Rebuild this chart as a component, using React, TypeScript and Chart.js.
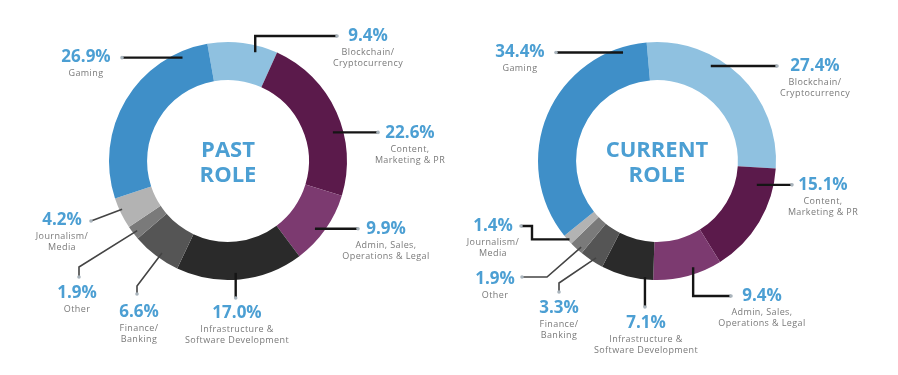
import React, { useEffect, useRef } from "react";
import { Chart, registerables } from "chart.js";

Chart.register(...registerables);

// ---------- DATA ----------
const categories = [
  "Blockchain/Cryptocurrency",
  "Content, Marketing & PR",
  "Admin, Sales, Operations & Legal",
  "Infrastructure & Software Development",
  "Finance/Banking",
  "Other",
  "Journalism/Media",
  "Gaming",
];
const categoryLines = [
  ["Blockchain/", "Cryptocurrency"],
  ["Content,", "Marketing & PR"],
  ["Admin, Sales,", "Operations & Legal"],
  ["Infrastructure &", "Software Development"],
  ["Finance/", "Banking"],
  ["Other"],
  ["Journalism/", "Media"],
  ["Gaming"],
];
const pastValues = [9.4, 22.6, 9.9, 17.0, 6.6, 1.9, 4.2, 26.9];
const currentValues = [27.4, 15.1, 9.4, 7.1, 3.3, 1.9, 1.4, 34.4];
const pastTitle = ["PAST", "ROLE"];
const currentTitle = ["CURRENT", "ROLE"];

// ---------- STYLE / LAYOUT ----------
const sliceColors = [
  "#8fc1e0",
  "#5b1a4b",
  "#7c3a70",
  "#2a2a2a",
  "#555555",
  "#7a7a7a",
  "#b3b3b3",
  "#3f8fc8",
];
const BLUE = "#4c9fd3";
const GREY_TEXT = "#7a7a7a";
const FONT = "'Open Sans', 'DejaVu Sans', sans-serif";

type Seg = ["v", number] | ["h", number] | ["p", number, number];
type Leader = {
  t: number;
  rf: number;
  path: Seg[];
  lx: number;
  ly: number;
  thin?: boolean;
};

const pastLeaders: Leader[] = [
  { t: 0.7, rf: 0.82, path: [["v", -125], ["h", 109]], lx: 140, ly: -125 },
  { t: 0.61, rf: 0.73, path: [["h", 150]], lx: 182, ly: -28 },
  { t: 0.58, rf: 0.77, path: [["h", 130]], lx: 158, ly: 68 },
  { t: 0.53, rf: 0.82, path: [["v", 137]], lx: 9, ly: 152 },
  { t: 0.43, rf: 0.85, path: [["p", -91, 125], ["v", 133]], lx: -89, ly: 151, thin: true },
  { t: 0.45, rf: 0.88, path: [["p", -149, 106], ["v", 116]], lx: -151, ly: 132, thin: true },
  { t: 0.6, rf: 0.93, path: [["p", -137, 60]], lx: -166, ly: 59, thin: true },
  { t: 0.86, rf: 0.84, path: [["h", -106]], lx: -142, ly: -104 },
];
const currentLeaders: Leader[] = [
  { t: 0.35, rf: 0.74, path: [["h", 120]], lx: 158, ly: -95 },
  { t: 0.18, rf: 0.57, path: [["h", 135]], lx: 166, ly: 24 },
  { t: 0.39, rf: 0.82, path: [["v", 135], ["h", 74]], lx: 105, ly: 135 },
  { t: 0.16, rf: 0.94, path: [["v", 146]], lx: -11, ly: 162 },
  { t: 0.4, rf: 0.88, path: [["p", -98, 122], ["v", 131]], lx: -98, ly: 147, thin: true },
  { t: 0.3, rf: 0.89, path: [["p", -110, 116], ["h", -135]], lx: -162, ly: 118, thin: true },
  { t: 0.4, rf: 0.96, path: [["h", -125], ["v", 65], ["h", -136]], lx: -164, ly: 65 },
  { t: 0.9, rf: 0.86, path: [["h", -101]], lx: -137, ly: -109 },
];

function labelPlugin(title: string[], leaders: Leader[], values: number[]) {
  return {
    id: "doughnutLabels",
    afterDraw(chart: any) {
      const ctx: CanvasRenderingContext2D = chart.ctx;
      const meta = chart.getDatasetMeta(0);
      const first = meta.data[0];
      const cx = first.x;
      const cy = first.y;
      ctx.save();
      // centre title
      ctx.fillStyle = BLUE;
      ctx.font = `700 22px ${FONT}`;
      ctx.textAlign = "center";
      ctx.textBaseline = "middle";
      ctx.fillText(title[0], cx, cy - 10);
      ctx.fillText(title[1], cx, cy + 15);

      meta.data.forEach((arc: any, i: number) => {
        const L = leaders[i];
        const a = arc.startAngle + L.t * (arc.endAngle - arc.startAngle);
        const r = arc.innerRadius + L.rf * (arc.outerRadius - arc.innerRadius);
        let x = cx + Math.cos(a) * r;
        let y = cy + Math.sin(a) * r;
        ctx.beginPath();
        ctx.moveTo(x, y);
        for (const s of L.path) {
          if (s[0] === "v") y = cy + s[1];
          else if (s[0] === "h") x = cx + s[1];
          else {
            x = cx + s[1];
            y = cy + s[2];
          }
          ctx.lineTo(x, y);
        }
        ctx.strokeStyle = L.thin ? "#444444" : "#151515";
        ctx.lineWidth = L.thin ? 1.6 : 2.4;
        ctx.lineJoin = "miter";
        ctx.stroke();
        ctx.beginPath();
        ctx.arc(x, y, 1.8, 0, Math.PI * 2);
        ctx.fillStyle = "#a9b4bc";
        ctx.fill();

        // labels
        const lx = cx + L.lx;
        const ly = cy + L.ly;
        ctx.fillStyle = BLUE;
        ctx.font = `700 17px ${FONT}`;
        ctx.textAlign = "center";
        ctx.textBaseline = "middle";
        ctx.fillText(values[i].toFixed(1) + "%", lx, ly);
        ctx.fillStyle = GREY_TEXT;
        ctx.font = `400 9px ${FONT}`;
        (ctx as any).letterSpacing = "0.4px";
        categoryLines[i].forEach((line, k) => {
          ctx.fillText(line, lx, ly + 16 + k * 11);
        });
        (ctx as any).letterSpacing = "0px";
      });
      ctx.restore();
    },
  };
}

function Donut(props: {
  values: number[];
  rotation: number;
  title: string[];
  leaders: Leader[];
  cx: number;
  left: number;
}) {
  const ref = useRef<HTMLCanvasElement>(null);
  useEffect(() => {
    const R = 119;
    const cy = 161;
    const W = 449;
    const H = 375;
    const chart = new Chart(ref.current!, {
      type: "doughnut",
      data: {
        labels: categories,
        datasets: [
          {
            data: props.values,
            backgroundColor: sliceColors,
            borderWidth: 0,
            hoverOffset: 0,
            offset: 0,
          },
        ],
      },
      options: {
        responsive: false,
        animation: false,
        events: [],
        rotation: props.rotation,
        cutout: "68%",
        radius: R,
        layout: {
          padding: {
            left: props.cx - R,
            right: W - props.cx - R,
            top: cy - R,
            bottom: H - cy - R,
          },
        },
        plugins: { legend: { display: false }, tooltip: { enabled: false } },
      } as any,
      plugins: [labelPlugin(props.title, props.leaders, props.values)],
    });
    return () => chart.destroy();
  }, []);
  return (
    <canvas
      ref={ref}
      width={449}
      height={375}
      style={{ position: "absolute", left: props.left, top: 0, width: 449, height: 375 }}
    />
  );
}

export default function App() {
  return (
    <div
      style={{
        position: "absolute",
        left: 0,
        top: 0,
        width: 898,
        height: 375,
        background: "#ffffff",
        overflow: "hidden",
      }}
    >
      <Donut values={pastValues} rotation={-10} title={pastTitle} leaders={pastLeaders} cx={228} left={0} />
      <Donut values={currentValues} rotation={-5} title={currentTitle} leaders={currentLeaders} cx={208} left={449} />
    </div>
  );
}
